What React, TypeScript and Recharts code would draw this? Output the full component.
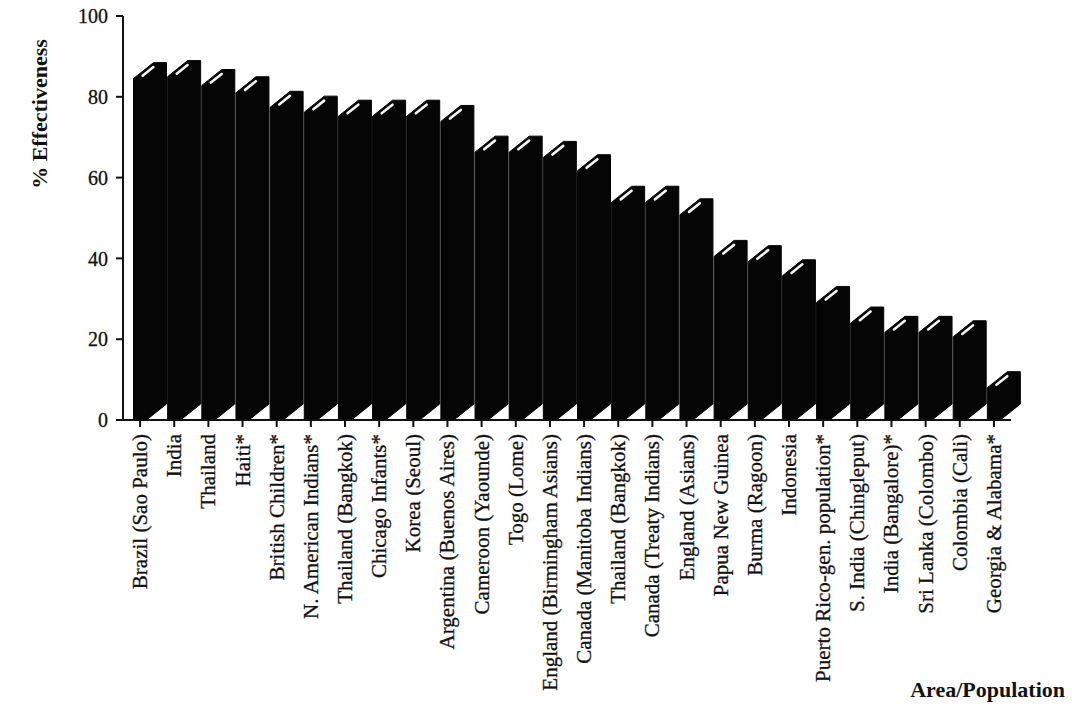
import { Bar, BarChart, Label, XAxis, YAxis } from 'recharts'

const areas = [
  'Brazil (Sao Paulo)',
  'India',
  'Thailand',
  'Haiti*',
  'British Children*',
  'N. American Indians*',
  'Thailand (Bangkok)',
  'Chicago Infants*',
  'Korea (Seoul)',
  'Argentina (Buenos Aires)',
  'Cameroon (Yaounde)',
  'Togo (Lome)',
  'England (Birmingham Asians)',
  'Canada (Manitoba Indians)',
  'Thailand (Bangkok)',
  'Canada (Treaty Indians)',
  'England (Asians)',
  'Papua New Guinea',
  'Burma (Ragoon)',
  'Indonesia',
  'Puerto Rico-gen. population*',
  'S. India (Chingleput)',
  'India (Bangalore)*',
  'Sri Lanka (Colombo)',
  'Colombia (Cali)',
  'Georgia & Alabama*',
]

const effectiveness = [
  84.5, 85, 82.8, 81, 77.4, 76.2, 75.2, 75.2, 75.2, 73.9, 66.3, 66.3, 65, 61.7, 53.9, 53.9, 50.8,
  40.5, 39.2, 35.7, 29.1, 24, 21.7, 21.7, 20.6, 8,
]

const yTicks = [0, 20, 40, 60, 80, 100]

const data = areas.map((label, i) => ({ label, value: effectiveness[i] }))

const serif = '"Liberation Serif", "Times New Roman", serif'
const ink = '#111'

// pseudo-3D slab: narrow front face, depth going up and to the right
const FRONT = 13
const DX = 20
const DY = 16

function SlabBar(props: any) {
  const { x, y, width, height } = props
  if (height == null || height <= 0) return null
  const cx = x + width / 2
  const xl = cx - FRONT / 2
  const xr = cx + FRONT / 2
  const base = y + height
  const top = y
  const pts = [
    [xl, base],
    [xr, base],
    [xr + DX, base - DY],
    [xr + DX, top - DY],
    [xl + DX, top - DY],
    [xl, top],
  ]
    .map((p) => p.join(','))
    .join(' ')
  const mid = cx - 1
  return (
    <g>
      <polygon points={pts} fill="#050505" stroke="#050505" strokeWidth={1} strokeLinejoin="round" />
      <line
        x1={mid + DX * 0.18}
        y1={top - DY * 0.18}
        x2={mid + DX * 0.72}
        y2={top - DY * 0.72}
        stroke="#f4f4f4"
        strokeWidth={2.6}
        strokeLinecap="round"
      />
    </g>
  )
}

function AreaTick(props: any) {
  const { x, y, payload } = props
  return (
    <text
      transform={`translate(${x + 7}, ${y + 3}) rotate(-90)`}
      textAnchor="end"
      fontFamily={serif}
      fontSize={21}
      fill={ink}
      stroke={ink}
      strokeWidth={0.3}
    >
      {payload.value}
    </text>
  )
}

export default function App() {
  return (
    <div style={{ position: 'absolute', left: 0, top: 0, background: '#fff' }}>
      <BarChart
        width={1072}
        height={709}
        data={data}
        margin={{ top: 16, right: 61, bottom: 9, left: 0 }}
        barCategoryGap={0}
      >
        <XAxis
          dataKey="label"
          interval={0}
          height={280}
          tick={<AreaTick />}
          tickSize={7}
          tickMargin={4}
          axisLine={{ stroke: ink, strokeWidth: 2 }}
          tickLine={{ stroke: ink, strokeWidth: 2 }}
        >
          <Label
            content={({ viewBox }: any) => (
              <text
                x={viewBox.x + viewBox.width + 54}
                y={viewBox.y + viewBox.height - 3}
                textAnchor="end"
                fontFamily={serif}
                fontWeight="bold"
                fontSize={22}
                fill={ink}
              >
                Area/Population
              </text>
            )}
          />
        </XAxis>
        <YAxis
          width={123}
          domain={[0, 100]}
          ticks={yTicks}
          tickSize={7}
          tickMargin={8}
          tick={{ fontFamily: serif, fontSize: 20, fill: ink, stroke: ink, strokeWidth: 0.3 }}
          axisLine={{ stroke: ink, strokeWidth: 2 }}
          tickLine={{ stroke: ink, strokeWidth: 2 }}
        >
          <Label
            content={() => (
              <text
                transform="translate(39, 114) rotate(-90)"
                textAnchor="middle"
                dominantBaseline="central"
                fontFamily={serif}
                fontWeight="bold"
                fontSize={22}
                fill={ink}
              >
                % Effectiveness
              </text>
            )}
          />
        </YAxis>
        <Bar dataKey="value" shape={<SlabBar />} isAnimationActive={false} />
      </BarChart>
    </div>
  )
}
